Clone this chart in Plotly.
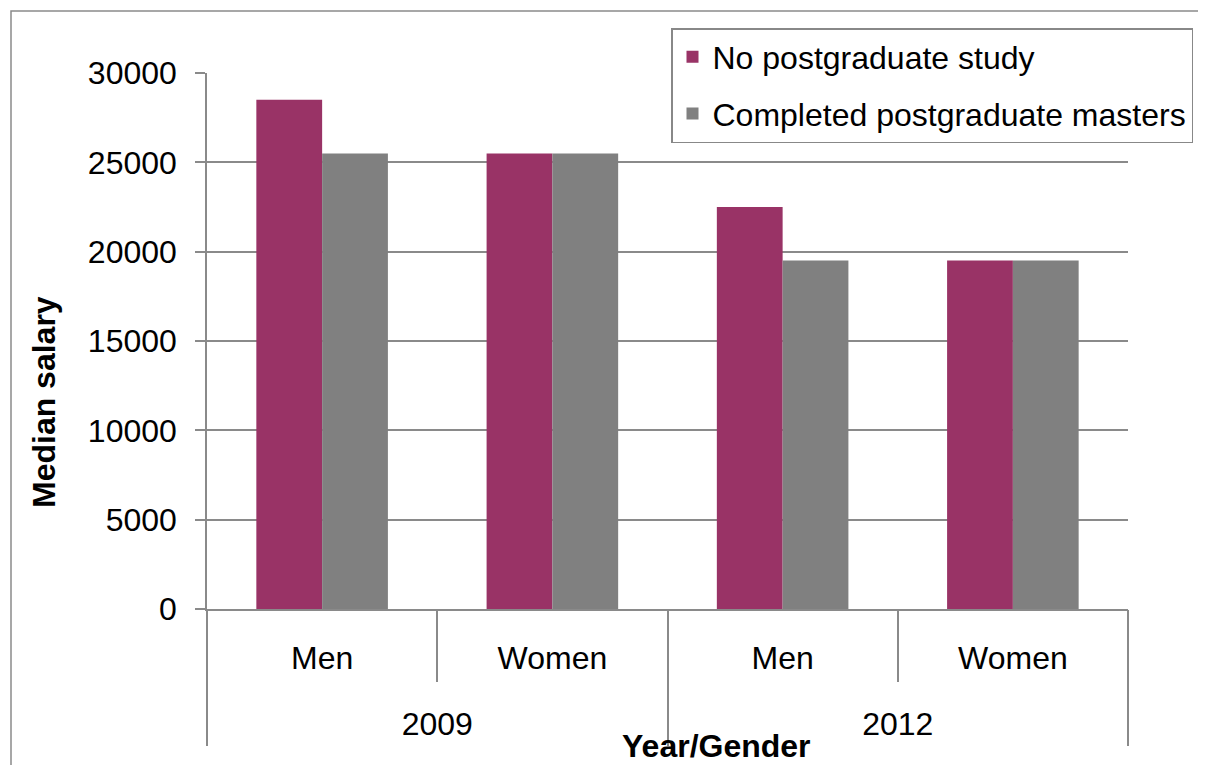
import plotly.graph_objects as go

years = ["2009", "2009", "2012", "2012"]
genders = ["Men", "Women", "Men", "Women"]
no_postgrad = [28500, 25500, 22500, 19500]
masters = [25500, 25500, 19500, 19500]
series_names = ["No postgraduate study", "Completed postgraduate masters"]
colors = ["#993366", "#808080"]

OFF = 8  # browser body margin
W, H = 1206 - OFF, 765 - OFF
L, R, T, B = 207, 1128, 73, 609  # screenshot coords of plot area
pw, ph = R - L, B - T

def px(x):
    return (x - L) / pw

def py(y):
    return (B - y) / ph

FONT = "Liberation Sans, Arial, sans-serif"
FS = 32
GRID = "#8a8a8a"

pos = list(range(len(genders)))
# year groups: center and boundaries derived from the data
year_names, year_centers, year_bounds = [], [], [pos[0] - 0.5]
for i, y in enumerate(years):
    if not year_names or year_names[-1] != y:
        if year_names:
            year_bounds.append(i - 0.5)
        year_names.append(y)
year_bounds.append(pos[-1] + 0.5)
for k in range(len(year_names)):
    year_centers.append((year_bounds[k] + year_bounds[k + 1]) / 2)
inner_bounds = [p - 0.5 for p in pos] + [pos[-1] + 0.5]

fig = go.Figure()
for name, vals, col, grp in [(series_names[0], no_postgrad, colors[0], "a"),
                             (series_names[1], masters, colors[1], "b")]:
    fig.add_trace(go.Bar(x=pos, y=vals, name=name,
                         marker=dict(color=col, line=dict(width=0)),
                         legendgroup=grp))
# carrier trace so the year-level axis is rendered (no visible marks)
fig.add_trace(go.Scatter(x=year_centers, y=[None] * len(year_centers),
                         xaxis="x2", yaxis="y", mode="markers",
                         showlegend=False, hoverinfo="skip"))

xr = [pos[0] - 0.5, pos[-1] + 0.5]

fig.update_layout(
    width=W, height=H,
    margin=dict(l=L - OFF, r=(1206 - R), t=T - OFF, b=(765 - B), pad=0),
    paper_bgcolor="white", plot_bgcolor="white",
    font=dict(family=FONT, size=FS, color="black"),
    barmode="group", bargap=0.4286, bargroupgap=0,
    showlegend=True,
    legend=dict(x=px(671), y=py(28), xanchor="left", yanchor="top",
                bordercolor="#888888", borderwidth=1.5, bgcolor="white",
                font=dict(family=FONT, size=FS, color="black"),
                traceorder="grouped", tracegroupgap=12,
                itemsizing="constant"),
    xaxis=dict(range=xr, tickmode="array", tickvals=pos, ticktext=genders,
               ticks="", showgrid=False, zeroline=False,
               showline=True, linecolor=GRID, linewidth=1.5,
               ticklabelstandoff=20,
               tickfont=dict(family=FONT, size=FS, color="black"),
               minor=dict(tickmode="array", tickvals=inner_bounds, ticks="outside",
                          ticklen=71, tickcolor=GRID, tickwidth=1.5, showgrid=False)),
    xaxis2=dict(range=xr, overlaying="x", anchor="y", side="bottom",
                tickmode="array", tickvals=year_centers, ticktext=year_names,
                ticks="", showgrid=False, zeroline=False, showline=False,
                ticklabelstandoff=93,
                tickfont=dict(family=FONT, size=FS, color="black"),
                minor=dict(tickmode="array", tickvals=year_bounds, ticks="outside",
                           ticklen=136, tickcolor=GRID, tickwidth=1.5, showgrid=False)),
)

fig.update_yaxes(range=[0, 30000], dtick=5000, tickformat="d",
                 showgrid=True, gridcolor=GRID, gridwidth=1.5,
                 showline=True, linecolor=GRID, linewidth=1.5,
                 ticks="outside", ticklen=10, tickcolor=GRID, tickwidth=1.5,
                 ticklabelstandoff=12, zeroline=False,
                 tickfont=dict(family=FONT, size=FS, color="black"))

fig.add_annotation(text="<b>Median salary</b>", xref="paper", yref="paper",
                   x=px(44), y=py(402), xanchor="center", yanchor="middle",
                   textangle=-90, showarrow=False,
                   font=dict(family=FONT, size=FS, color="black"))
fig.add_annotation(text="<b>Year/Gender</b>", xref="paper", yref="paper",
                   x=px(716), y=py(746), xanchor="center", yanchor="middle",
                   showarrow=False,
                   font=dict(family=FONT, size=FS, color="black"))

fig.add_shape(type="rect", xref="paper", yref="paper",
              x0=px(11), x1=px(1215), y0=py(790), y1=py(11),
              line=dict(color=GRID, width=1.5), fillcolor="rgba(0,0,0,0)",
              layer="below")

fig.write_html("out.html")
